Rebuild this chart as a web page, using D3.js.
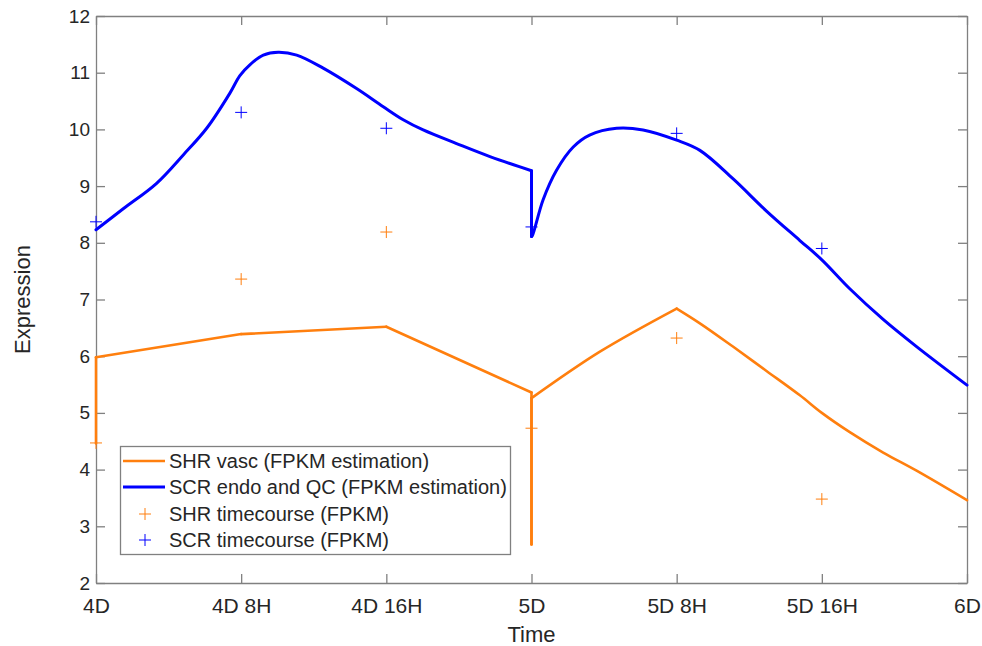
<!DOCTYPE html>
<html>
<head>
<meta charset="utf-8">
<script src="https://cdn.jsdelivr.net/npm/d3@7"></script>
<style>
  body { margin: 0; background: #fff; }
  text { font-family: "Liberation Sans", Arial, sans-serif; fill: #262626; }
</style>
</head>
<body>
<svg id="chart" width="982" height="646"></svg>
<script>
// time in hours after 4D
const tickHours = [0, 8, 16, 24, 32, 40, 48];
const tickLabels = ["4D", "4D 8H", "4D 16H", "5D", "5D 8H", "5D 16H", "6D"];

const shrLineT = [0, 0, 8, 16, 24, 24, 24, 27.77, 32, 33.28, 35.1, 36.95, 38.79, 40, 41.54, 43.38, 45.22, 48];
const shrLineV = [4.46, 5.98, 6.39, 6.52, 5.36, 2.68, 5.26, 6.08, 6.84, 6.58, 6.17, 5.74, 5.31, 5.0, 4.66, 4.30, 3.98, 3.46];

const scrLineT = [0, 1.5, 3.34, 4.81, 6.1, 7.38, 7.93, 8.48, 9.22, 10.04, 11.06, 12.52, 14.36, 15.83, 16.93, 18.03, 19.87, 21.71, 24, 24, 24.04, 24.64, 25.38, 26.3, 27.2, 28.69, 30.15, 32, 33.28, 35.1, 36.95, 38.79, 40, 41.54, 43.38, 45.22, 48];
const scrLineV = [8.23, 8.6, 9.05, 9.55, 10.02, 10.64, 10.95, 11.14, 11.31, 11.36, 11.31, 11.08, 10.72, 10.40, 10.17, 9.99, 9.75, 9.52, 9.27, 8.11, 8.12, 8.76, 9.28, 9.69, 9.90, 10.02, 9.99, 9.81, 9.63, 9.13, 8.56, 8.04, 7.70, 7.19, 6.65, 6.17, 5.49];

const shrPtsT = [0, 8, 16, 24, 32, 40];
const shrPtsV = [4.47, 7.36, 8.19, 4.73, 6.32, 3.48];
const scrPtsT = [0, 8, 16, 24, 32, 40];
const scrPtsV = [8.37, 10.30, 10.02, 8.28, 9.93, 7.90];

const legendLabels = [
  "SHR vasc (FPKM estimation)",
  "SCR endo and QC (FPKM estimation)",
  "SHR timecourse (FPKM)",
  "SCR timecourse (FPKM)"
];

const orange = "#ff7f0e";
const blue = "#0000ff";
const axisColor = "#808080";

const margin = { top: 16, right: 15, bottom: 63, left: 96 };
const width = 982 - margin.left - margin.right;
const height = 646 - margin.top - margin.bottom;

const svg = d3.select("#chart");
const g = svg.append("g")
  .attr("transform", "translate(" + margin.left + "," + margin.top + ")");

const x = d3.scaleLinear().domain([0, 48]).range([0, width]);
const y = d3.scaleLinear().domain([2, 12]).range([height, 0]);

// axes, MATLAB style: ticks inward on all four sides
const tickLen = 9;
const xb = g.append("g")
  .attr("transform", "translate(0," + height + ")")
  .call(d3.axisBottom(x).tickValues(tickHours).tickFormat((d, i) => tickLabels[i])
    .tickSizeInner(-tickLen).tickSizeOuter(0).tickPadding(15));
const xt = g.append("g")
  .call(d3.axisTop(x).tickValues(tickHours).tickFormat("").tickSizeInner(-tickLen).tickSizeOuter(0));
const yl = g.append("g")
  .call(d3.axisLeft(y).ticks(10).tickSizeInner(-tickLen).tickSizeOuter(0).tickPadding(6));
const yr = g.append("g")
  .attr("transform", "translate(" + width + ",0)")
  .call(d3.axisRight(y).ticks(10).tickFormat("").tickSizeInner(-tickLen).tickSizeOuter(0));

[xb, xt, yl, yr].forEach(a => {
  a.selectAll("path.domain").attr("stroke", axisColor).attr("stroke-width", 1.3);
  a.selectAll(".tick line").attr("stroke", axisColor).attr("stroke-width", 1.3);
});
xb.selectAll(".tick text").style("font-size", "21px").style("font-family", "Liberation Sans, Arial, sans-serif").attr("fill", "#262626");
yl.selectAll(".tick text").style("font-size", "19px").style("font-family", "Liberation Sans, Arial, sans-serif").attr("fill", "#262626");

// lines: split at vertical jumps (same x twice) and at sharp corners;
// smooth pieces get a catmull-rom curve, jumps are straight
const toPts = (ts, vs) => ts.map((t, i) => [t, vs[i]]);
const smooth = d3.line().x(d => x(d[0])).y(d => y(d[1])).curve(d3.curveCatmullRom.alpha(0.5));
const straight = d3.line().x(d => x(d[0])).y(d => y(d[1]));

function drawSeries(pts, color, w, sharpIdx) {
  let pieces = [], cur = [pts[0]];
  for (let i = 1; i < pts.length; i++) {
    if (pts[i][0] === pts[i - 1][0]) {
      if (cur.length > 1) pieces.push({ p: cur, smooth: true });
      pieces.push({ p: [pts[i - 1], pts[i]], smooth: false });
      cur = [pts[i]];
    } else {
      cur.push(pts[i]);
      if (sharpIdx.includes(i)) {
        pieces.push({ p: cur, smooth: true });
        cur = [pts[i]];
      }
    }
  }
  if (cur.length > 1) pieces.push({ p: cur, smooth: true });
  pieces.forEach(pc => {
    g.append("path").datum(pc.p)
      .attr("fill", "none").attr("stroke", color).attr("stroke-width", w)
      .attr("stroke-linejoin", "round").attr("stroke-linecap", "round")
      .attr("d", pc.smooth ? smooth : straight);
  });
}

drawSeries(toPts(shrLineT, shrLineV), orange, 2.6, [2, 3, 4, 8]);
drawSeries(toPts(scrLineT, scrLineV), blue, 3, []);

// plus markers
const plus = (sel, cx, cy, color) => {
  const s = 6;
  sel.append("path")
    .attr("d", `M${cx - s},${cy}H${cx + s}M${cx},${cy - s}V${cy + s}`)
    .attr("stroke", color).attr("stroke-width", 1).attr("fill", "none");
};
shrPtsT.forEach((t, i) => plus(g, x(t), y(shrPtsV[i]), orange));
scrPtsT.forEach((t, i) => plus(g, x(t), y(scrPtsV[i]), blue));

// axis labels
svg.append("text")
  .attr("x", margin.left + width / 2).attr("y", 642)
  .attr("text-anchor", "middle").style("font-size", "22px").text("Time");
svg.append("text")
  .attr("transform", "translate(30," + (margin.top + height / 2) + ") rotate(-90)")
  .attr("text-anchor", "middle").style("font-size", "22px").text("Expression");

// legend
const lg = svg.append("g");
lg.append("rect")
  .attr("x", 120.5).attr("y", 446.5).attr("width", 390).attr("height", 108)
  .attr("fill", "#fff").attr("stroke", axisColor).attr("stroke-width", 1.3);
const rowY = [461, 487, 514, 540];
const rowColor = [orange, blue, orange, blue];
legendLabels.forEach((lab, i) => {
  if (i < 2) {
    lg.append("line").attr("x1", 123).attr("x2", 165).attr("y1", rowY[i]).attr("y2", rowY[i])
      .attr("stroke", rowColor[i]).attr("stroke-width", i === 0 ? 2.6 : 3);
  } else {
    plus(lg, 145, rowY[i], rowColor[i]);
  }
  lg.append("text").attr("x", 169).attr("y", rowY[i] + 7)
    .style("font-size", "20px").text(lab);
});
</script>
</body>
</html>
